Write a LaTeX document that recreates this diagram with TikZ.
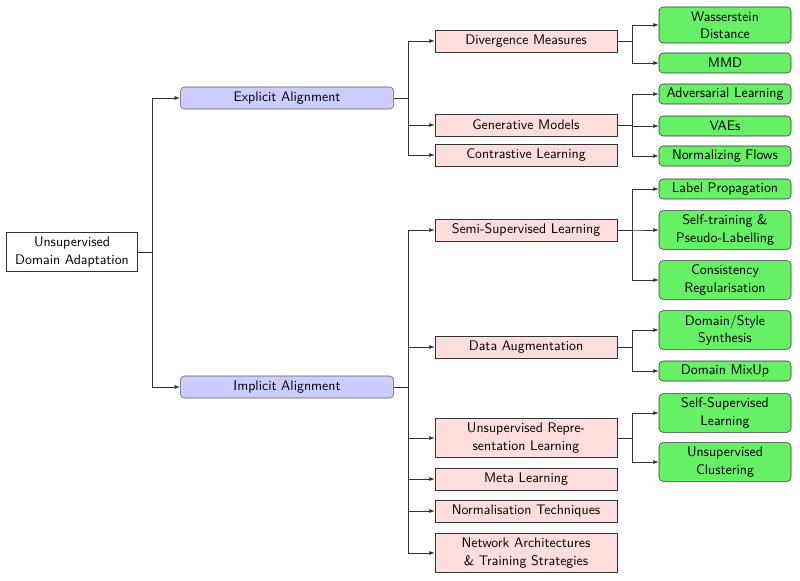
\documentclass[tikz,border=0pt]{standalone}
\usepackage{tikz}
\usepackage{xcolor}
\usetikzlibrary{arrows.meta, positioning}
\definecolor{udablue}{HTML}{CCCCFF}
\definecolor{udapink}{HTML}{FFDDDD}
\definecolor{udagreen}{HTML}{66F066}
\definecolor{udaline}{HTML}{333333}

\begin{document}
\begin{tikzpicture}[
  x=0.75pt, y=-0.75pt,
  every node/.style={font=\sffamily\fontsize{10.4}{13}\selectfont},
  rootbox/.style={rectangle, draw=udaline, fill=white, minimum width=98pt, minimum height=29pt, align=center, inner sep=1pt},
  alignbox/.style={rectangle, rounded corners=3pt, draw=udaline!80, fill=udablue, minimum width=160pt, minimum height=16.5pt, align=center, inner sep=1pt},
  methodbox/.style={rectangle, draw=udaline, fill=udapink, minimum width=136.5pt, minimum height=16.5pt, align=center, inner sep=1pt},
  leafbox/.style={rectangle, rounded corners=3pt, draw=udaline, fill=udagreen, minimum width=99pt, minimum height=15pt, align=center, inner sep=1pt},
  link/.style={-{Latex[length=4pt,width=3pt]}, udaline, semithick},
]
\useasboundingbox (0,0) rectangle (800,581);

\node[rootbox] (uda) at (72, 252) {Unsupervised\\Domain Adaptation};

\node[alignbox] (explicit) at (287, 98) {Explicit Alignment};
\node[alignbox] (implicit) at (287, 387) {Implicit Alignment};

\node[methodbox] (diverg) at (526, 41) {Divergence Measures};
\node[methodbox] (genmod) at (526, 125) {Generative Models};
\node[methodbox] (contra) at (526, 155) {Contrastive Learning};
\node[methodbox] (semisup) at (526, 230) {Semi-Supervised Learning};
\node[methodbox] (dataaug) at (526, 347) {Data Augmentation};
\node[methodbox, minimum height=29pt] (unsrep) at (526, 438) {Unsupervised Repre-\\sentation Learning};
\node[methodbox] (meta) at (526, 479) {Meta Learning};
\node[methodbox] (norm) at (526, 511) {Normalisation Techniques};
\node[methodbox, minimum height=29pt] (netarch) at (526, 553) {Network Architectures\\\& Training Strategies};

\node[leafbox, minimum height=27pt] (wasser) at (725, 25) {Wasserstein\\Distance};
\node[leafbox] (mmd) at (725, 63) {MMD};
\node[leafbox] (adv) at (725, 94) {Adversarial Learning};
\node[leafbox] (vae) at (725, 126) {VAEs};
\node[leafbox] (flows) at (725, 156) {Normalizing Flows};
\node[leafbox] (labprop) at (725, 189) {Label Propagation};
\node[leafbox, minimum height=29pt] (selftrain) at (725, 230) {Self-training \&\\Pseudo-Labelling};
\node[leafbox, minimum height=29pt] (consist) at (725, 280) {Consistency\\Regularisation};
\node[leafbox, minimum height=29pt] (synth) at (725, 330) {Domain/Style\\Synthesis};
\node[leafbox] (mixup) at (725, 371) {Domain MixUp};
\node[leafbox, minimum height=29pt] (selfsup) at (725, 413) {Self-Supervised\\Learning};
\node[leafbox, minimum height=29pt] (cluster) at (725, 462) {Unsupervised\\Clustering};

\foreach \parent/\kids in {uda/{explicit,implicit},
    explicit/{diverg,genmod,contra},
    implicit/{semisup,dataaug,unsrep,meta,norm,netarch},
    diverg/{wasser,mmd}, genmod/{adv,vae,flows},
    semisup/{labprop,selftrain,consist}, dataaug/{synth,mixup},
    unsrep/{selfsup,cluster}}
  \foreach \kid in \kids
    \draw[link] (\parent.east) -- ++(11pt,0) |- (\kid.west);
\end{tikzpicture}
\end{document}
